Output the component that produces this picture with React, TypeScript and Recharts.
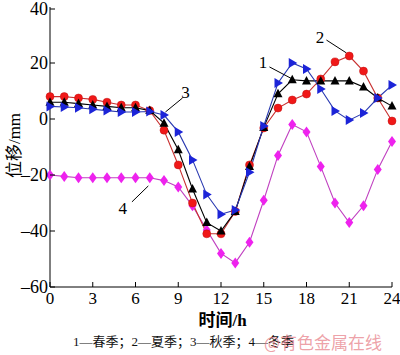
import React from 'react';
import { LineChart, Line, XAxis, YAxis, ReferenceLine, ReferenceDot } from 'recharts';

const hours = [0, 1, 2, 3, 4, 5, 6, 7, 8, 9, 10, 11, 12, 13, 14, 15, 16, 17, 18, 19, 20, 21, 22, 23, 24];
const spring = [6, 6, 5.5, 5, 4.5, 4, 4, 3, -1.5, -11, -25, -37, -40, -33, -17, -3, 9, 14, 13.6, 13.6, 13.6, 13.6, 11.4, 7.5, 4.6];
const summer = [8, 8, 7.5, 7, 6, 5, 5, 3, -4, -16.4, -30, -41, -41, -33, -16.4, -3.2, 3.9, 6.8, 8.9, 14.3, 20.4, 22.5, 17.1, 7.5, -0.7];
const autumn = [4.5, 4.3, 4, 3.5, 3, 2.5, 2.5, 2.7, 1.4, -4.6, -14.6, -27, -34, -32.5, -19, -2.5, 12.9, 20, 17.9, 10.7, 2.9, -0.4, 2.1, 7.5, 12.1];
const winter = [-20, -20.5, -21, -21, -21, -21, -21, -21, -22, -24.3, -31, -39.6, -48, -51.4, -44, -29, -13, -2, -4.6, -17, -30, -37, -31, -18, -8];
const xTicks = [0, 3, 6, 9, 12, 15, 18, 21, 24];
const yTicks = [-60, -40, -20, 0, 20, 40];

// leader-line annotations: label position and line from/to, in data units
const notes = [
  { text: '1', tx: 14.95, ty: 20.4, x1: 15.4, y1: 18.6, x2: 17.0, y2: 14.3 },
  { text: '2', tx: 18.95, ty: 29.3, x1: 19.4, y1: 28.2, x2: 20.8, y2: 23.6 },
  { text: '3', tx: 9.5, ty: 9.6, x1: 9.3, y1: 7.5, x2: 8.1, y2: 2.5 },
  { text: '4', tx: 5.1, ty: -31.8, x1: 5.75, y1: -29.6, x2: 6.9, y2: -23.9 },
];

const data = hours.map((h, i) => ({ h, s1: spring[i], s2: summer[i], s3: autumn[i], s4: winter[i] }));

const serif = '"Liberation Serif", "Times New Roman", serif';
const cjk = '"Liberation Serif", "Noto Sans CJK SC", serif';

const fmt = (v: number) => (v < 0 ? '\u2013' + Math.abs(v) : String(v));

const XTick = (p: any) => (
  <g>
    <line x1={p.x} x2={p.x} y1={p.y} y2={p.y - 5} stroke="#000" />
    <text x={p.x} y={p.y + 17} textAnchor="middle" fontSize={17} fontFamily={serif} fill="#000">{p.payload.value}</text>
  </g>
);

const YTick = (p: any) => (
  <g>
    <line x1={p.x} x2={p.x + 5} y1={p.y} y2={p.y} stroke="#000" />
    <text x={p.x - 2} y={p.y + 6} textAnchor="end" fontSize={18} fontFamily={serif} fill="#000">{fmt(p.payload.value)}</text>
  </g>
);

const Circle = (p: any) => <circle key={p.key} cx={p.cx} cy={p.cy} r={4} fill="#f01818" stroke="#c01010" strokeWidth={0.5} />;
const TriUp = (p: any) => (
  <path key={p.key} d={`M${p.cx},${p.cy - 5} L${p.cx + 4.5},${p.cy + 3.5} L${p.cx - 4.5},${p.cy + 3.5} Z`} fill="#000" />
);
const TriRight = (p: any) => (
  <path key={p.key} d={`M${p.cx + 5},${p.cy} L${p.cx - 3.5},${p.cy - 5} L${p.cx - 3.5},${p.cy + 5} Z`} fill="#1c24d8" />
);
const Diamond = (p: any) => (
  <path key={p.key} d={`M${p.cx},${p.cy - 5.5} L${p.cx + 4},${p.cy} L${p.cx},${p.cy + 5.5} L${p.cx - 4},${p.cy} Z`} fill="#ee22ee" />
);

export default function App() {
  return (
    <div style={{ position: 'absolute', left: 0, top: 0, width: 400, height: 355, background: '#fff' }}>
      <LineChart width={400} height={355} data={data} margin={{ top: 7, right: 8, left: 0, bottom: 0 }}>
        <XAxis dataKey="h" type="number" domain={[0, 24]} ticks={xTicks} height={68} tickSize={0} tickMargin={0}
          tick={<XTick />} axisLine={{ stroke: '#000' }} tickLine={false} />
        <XAxis xAxisId="top" dataKey="h" type="number" domain={[0, 24]} orientation="top" height={0} tick={false} axisLine={{ stroke: '#000' }} />
        <YAxis type="number" domain={[-60, 40]} ticks={yTicks} width={50} tickSize={0} tickMargin={0}
          tick={<YTick />} axisLine={{ stroke: '#000' }} tickLine={false} />
        <YAxis yAxisId="right" type="number" domain={[-60, 40]} orientation="right" width={0} tick={false} axisLine={{ stroke: '#000' }} />
        <Line dataKey="s4" stroke="#c040c0" strokeWidth={1.1} dot={<Diamond />} isAnimationActive={false} />
        <Line dataKey="s2" stroke="#c83030" strokeWidth={1.1} dot={<Circle />} isAnimationActive={false} />
        <Line dataKey="s1" stroke="#000" strokeWidth={1.1} dot={<TriUp />} isAnimationActive={false} />
        <Line dataKey="s3" stroke="#2838b0" strokeWidth={1.1} dot={<TriRight />} isAnimationActive={false} />
        {notes.map((n) => (
          <ReferenceLine key={'l' + n.text} segment={[{ x: n.x1, y: n.y1 }, { x: n.x2, y: n.y2 }]} stroke="#000" strokeWidth={1} />
        ))}
        {notes.map((n) => (
          <ReferenceDot key={'d' + n.text} x={n.tx} y={n.ty} r={0} stroke="none"
            label={{ value: n.text, position: 'center', fontSize: 17, fontFamily: serif, fill: '#000' }} />
        ))}
      </LineChart>
      <div style={{ position: 'absolute', left: 0, width: 445, top: 311, textAlign: 'center', fontFamily: cjk, fontSize: 17, fontWeight: 'bold', lineHeight: '20px' }}>
        时间/h
      </div>
      <div style={{ position: 'absolute', left: 0, top: 125, width: 26, height: 40, display: 'flex', alignItems: 'center', justifyContent: 'center' }}>
        <div style={{ transform: 'rotate(-90deg)', whiteSpace: 'nowrap', fontFamily: cjk, fontSize: 17 }}>位移/mm</div>
      </div>
      <div style={{ position: 'absolute', left: 73, top: 331, fontFamily: cjk, fontSize: 13, whiteSpace: 'nowrap', color: '#111' }}>
        1—春季；2—夏季；3—秋季；4—冬季
      </div>
      <div style={{ position: 'absolute', left: 264, top: 329, fontFamily: '"Noto Sans CJK SC", sans-serif', fontSize: 17, whiteSpace: 'nowrap', color: 'rgba(230,120,130,0.7)' }}>
        @有色金属在线
      </div>
    </div>
  );
}
